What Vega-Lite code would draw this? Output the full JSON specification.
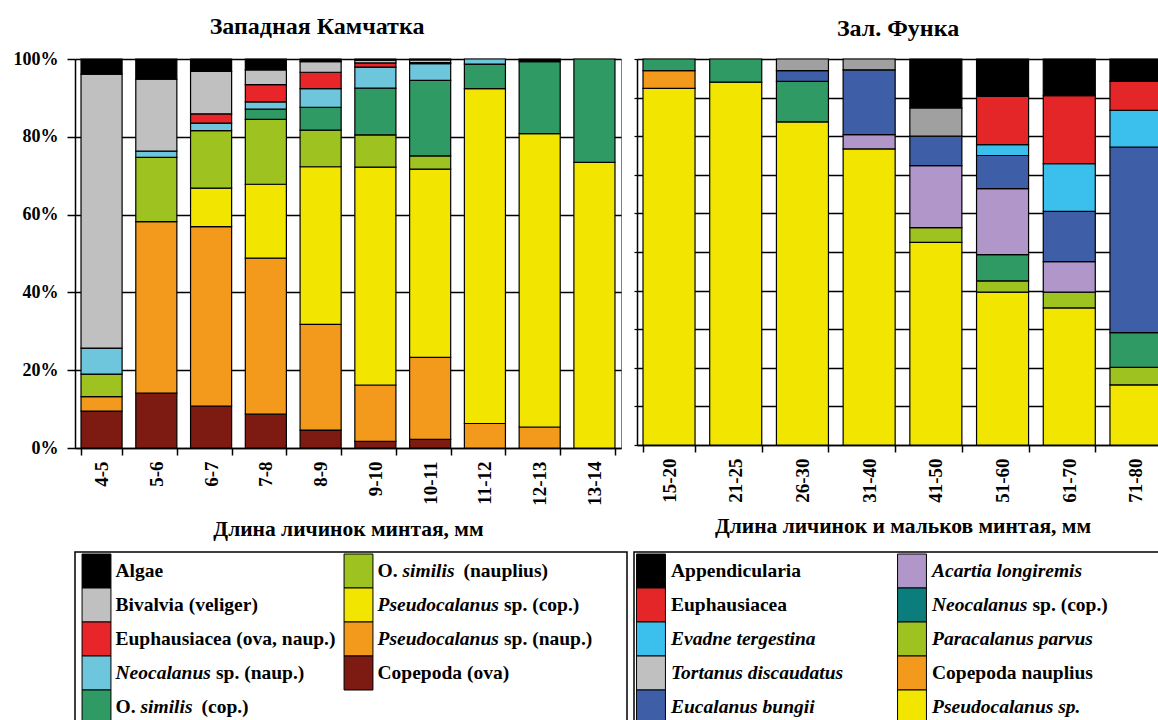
{
  "$schema": "https://vega.github.io/schema/vega-lite/v6.json",
  "padding": {"left": 12, "top": 14, "right": 0, "bottom": 0},
  "background": "white",
  "config": {
    "font": "Liberation Serif",
    "view": {"stroke": null},
    "axis": {"labelColor": "black", "titleColor": "black", "domainColor": "black", "tickColor": "black", "labelFont": "Liberation Serif", "titleFont": "Liberation Serif", "labelFontWeight": "bold", "titleFontWeight": "bold"},
    "title": {"font": "Liberation Serif", "fontWeight": "bold", "color": "black", "fontSize": 24, "anchor": "middle", "frame": "bounds"},
    "text": {"font": "Liberation Serif", "fontWeight": "bold", "fontSize": 19.5, "color": "black", "align": "left", "baseline": "middle"}
  },
  "datasets": {
    "west": [
      {"g": "4-5", "t": "Copepoda (ova)", "v": 9.5},
      {"g": "4-5", "t": "Pseudocalanus sp. (naup.)", "v": 3.7},
      {"g": "4-5", "t": "O. similis (nauplius)", "v": 5.8},
      {"g": "4-5", "t": "Neocalanus sp. (naup.)", "v": 6.7},
      {"g": "4-5", "t": "Bivalvia (veliger)", "v": 70.4},
      {"g": "4-5", "t": "Algae", "v": 3.9},
      {"g": "5-6", "t": "Copepoda (ova)", "v": 14.1},
      {"g": "5-6", "t": "Pseudocalanus sp. (naup.)", "v": 44.1},
      {"g": "5-6", "t": "O. similis (nauplius)", "v": 16.5},
      {"g": "5-6", "t": "Neocalanus sp. (naup.)", "v": 1.6},
      {"g": "5-6", "t": "Bivalvia (veliger)", "v": 18.5},
      {"g": "5-6", "t": "Algae", "v": 5.2},
      {"g": "6-7", "t": "Copepoda (ova)", "v": 10.8},
      {"g": "6-7", "t": "Pseudocalanus sp. (naup.)", "v": 46.1},
      {"g": "6-7", "t": "Pseudocalanus sp. (cop.)", "v": 9.9},
      {"g": "6-7", "t": "O. similis (nauplius)", "v": 14.8},
      {"g": "6-7", "t": "Neocalanus sp. (naup.)", "v": 1.9},
      {"g": "6-7", "t": "Euphausiacea (ova, naup.)", "v": 2.4},
      {"g": "6-7", "t": "Bivalvia (veliger)", "v": 10.9},
      {"g": "6-7", "t": "Algae", "v": 3.2},
      {"g": "7-8", "t": "Copepoda (ova)", "v": 8.7},
      {"g": "7-8", "t": "Pseudocalanus sp. (naup.)", "v": 40.1},
      {"g": "7-8", "t": "Pseudocalanus sp. (cop.)", "v": 19.0},
      {"g": "7-8", "t": "O. similis (nauplius)", "v": 16.7},
      {"g": "7-8", "t": "O. similis (cop.)", "v": 2.6},
      {"g": "7-8", "t": "Neocalanus sp. (naup.)", "v": 1.9},
      {"g": "7-8", "t": "Euphausiacea (ova, naup.)", "v": 4.4},
      {"g": "7-8", "t": "Bivalvia (veliger)", "v": 3.8},
      {"g": "7-8", "t": "Algae", "v": 2.8},
      {"g": "8-9", "t": "Copepoda (ova)", "v": 4.6},
      {"g": "8-9", "t": "Pseudocalanus sp. (naup.)", "v": 27.2},
      {"g": "8-9", "t": "Pseudocalanus sp. (cop.)", "v": 40.5},
      {"g": "8-9", "t": "O. similis (nauplius)", "v": 9.4},
      {"g": "8-9", "t": "O. similis (cop.)", "v": 5.9},
      {"g": "8-9", "t": "Neocalanus sp. (naup.)", "v": 4.8},
      {"g": "8-9", "t": "Euphausiacea (ova, naup.)", "v": 4.2},
      {"g": "8-9", "t": "Bivalvia (veliger)", "v": 2.7},
      {"g": "8-9", "t": "Algae", "v": 0.7},
      {"g": "9-10", "t": "Copepoda (ova)", "v": 1.7},
      {"g": "9-10", "t": "Pseudocalanus sp. (naup.)", "v": 14.5},
      {"g": "9-10", "t": "Pseudocalanus sp. (cop.)", "v": 56.0},
      {"g": "9-10", "t": "O. similis (nauplius)", "v": 8.3},
      {"g": "9-10", "t": "O. similis (cop.)", "v": 12.0},
      {"g": "9-10", "t": "Neocalanus sp. (naup.)", "v": 5.4},
      {"g": "9-10", "t": "Euphausiacea (ova, naup.)", "v": 1.1},
      {"g": "9-10", "t": "Bivalvia (veliger)", "v": 0.7},
      {"g": "9-10", "t": "Algae", "v": 0.3},
      {"g": "10-11", "t": "Copepoda (ova)", "v": 2.2},
      {"g": "10-11", "t": "Pseudocalanus sp. (naup.)", "v": 21.1},
      {"g": "10-11", "t": "Pseudocalanus sp. (cop.)", "v": 48.4},
      {"g": "10-11", "t": "O. similis (nauplius)", "v": 3.4},
      {"g": "10-11", "t": "O. similis (cop.)", "v": 19.4},
      {"g": "10-11", "t": "Neocalanus sp. (naup.)", "v": 4.3},
      {"g": "10-11", "t": "Euphausiacea (ova, naup.)", "v": 0.3},
      {"g": "10-11", "t": "Bivalvia (veliger)", "v": 0.7},
      {"g": "10-11", "t": "Algae", "v": 0.2},
      {"g": "11-12", "t": "Pseudocalanus sp. (naup.)", "v": 6.3},
      {"g": "11-12", "t": "Pseudocalanus sp. (cop.)", "v": 86.1},
      {"g": "11-12", "t": "O. similis (cop.)", "v": 6.3},
      {"g": "11-12", "t": "Neocalanus sp. (naup.)", "v": 1.3},
      {"g": "12-13", "t": "Pseudocalanus sp. (naup.)", "v": 5.4},
      {"g": "12-13", "t": "Pseudocalanus sp. (cop.)", "v": 75.4},
      {"g": "12-13", "t": "O. similis (cop.)", "v": 18.5},
      {"g": "12-13", "t": "Algae", "v": 0.7},
      {"g": "13-14", "t": "Pseudocalanus sp. (cop.)", "v": 73.4},
      {"g": "13-14", "t": "O. similis (cop.)", "v": 26.6}
    ],
    "east": [
      {"g": "15-20", "t": "Pseudocalanus sp.", "v": 92.4},
      {"g": "15-20", "t": "Copepoda nauplius", "v": 4.6},
      {"g": "15-20", "t": "Neocalanus sp. (cop.)", "v": 3.0},
      {"g": "21-25", "t": "Pseudocalanus sp.", "v": 94.0},
      {"g": "21-25", "t": "Neocalanus sp. (cop.)", "v": 6.0},
      {"g": "26-30", "t": "Pseudocalanus sp.", "v": 83.7},
      {"g": "26-30", "t": "Neocalanus sp. (cop.)", "v": 10.5},
      {"g": "26-30", "t": "Eucalanus bungii", "v": 2.8},
      {"g": "26-30", "t": "Tortanus discaudatus", "v": 3.0},
      {"g": "31-40", "t": "Pseudocalanus sp.", "v": 76.7},
      {"g": "31-40", "t": "Acartia longiremis", "v": 3.7},
      {"g": "31-40", "t": "Eucalanus bungii", "v": 16.8},
      {"g": "31-40", "t": "Tortanus discaudatus", "v": 2.8},
      {"g": "41-50", "t": "Pseudocalanus sp.", "v": 52.5},
      {"g": "41-50", "t": "Paracalanus parvus", "v": 3.8},
      {"g": "41-50", "t": "Acartia longiremis", "v": 16.1},
      {"g": "41-50", "t": "Eucalanus bungii", "v": 7.6},
      {"g": "41-50", "t": "Tortanus discaudatus", "v": 7.3},
      {"g": "41-50", "t": "Appendicularia", "v": 12.7},
      {"g": "51-60", "t": "Pseudocalanus sp.", "v": 39.6},
      {"g": "51-60", "t": "Paracalanus parvus", "v": 2.9},
      {"g": "51-60", "t": "Neocalanus sp. (cop.)", "v": 6.8},
      {"g": "51-60", "t": "Acartia longiremis", "v": 17.1},
      {"g": "51-60", "t": "Eucalanus bungii", "v": 8.6},
      {"g": "51-60", "t": "Evadne tergestina", "v": 2.8},
      {"g": "51-60", "t": "Euphausiacea", "v": 12.5},
      {"g": "51-60", "t": "Appendicularia", "v": 9.7},
      {"g": "61-70", "t": "Pseudocalanus sp.", "v": 35.5},
      {"g": "61-70", "t": "Paracalanus parvus", "v": 4.1},
      {"g": "61-70", "t": "Acartia longiremis", "v": 7.9},
      {"g": "61-70", "t": "Eucalanus bungii", "v": 13.0},
      {"g": "61-70", "t": "Evadne tergestina", "v": 12.4},
      {"g": "61-70", "t": "Euphausiacea", "v": 17.6},
      {"g": "61-70", "t": "Appendicularia", "v": 9.5},
      {"g": "71-80", "t": "Pseudocalanus sp.", "v": 15.6},
      {"g": "71-80", "t": "Paracalanus parvus", "v": 4.5},
      {"g": "71-80", "t": "Neocalanus sp. (cop.)", "v": 9.0},
      {"g": "71-80", "t": "Eucalanus bungii", "v": 48.1},
      {"g": "71-80", "t": "Evadne tergestina", "v": 9.5},
      {"g": "71-80", "t": "Euphausiacea", "v": 7.5},
      {"g": "71-80", "t": "Appendicularia", "v": 5.8}
    ],
    "westLegend": [
      {"t": "Algae"}, {"t": "Bivalvia (veliger)"}, {"t": "Euphausiacea (ova, naup.)"}, {"t": "Neocalanus sp. (naup.)"}, {"t": "O. similis (cop.)"},
      {"t": "O. similis (nauplius)"}, {"t": "Pseudocalanus sp. (cop.)"}, {"t": "Pseudocalanus sp. (naup.)"}, {"t": "Copepoda (ova)"}
    ],
    "eastLegend": [
      {"t": "Appendicularia"}, {"t": "Euphausiacea"}, {"t": "Evadne tergestina"}, {"t": "Tortanus discaudatus"}, {"t": "Eucalanus bungii"},
      {"t": "Acartia longiremis"}, {"t": "Neocalanus sp. (cop.)"}, {"t": "Paracalanus parvus"}, {"t": "Copepoda nauplius"}, {"t": "Pseudocalanus sp."}
    ]
  },
  "resolve": {"scale": {"color": "independent", "fill": "independent", "x": "independent", "y": "independent"}},
  "columns": 1,
  "align": "none",
  "spacing": 10,
  "concat": [
    {
      "resolve": {"scale": {"color": "independent", "fill": "independent", "x": "independent", "y": "independent"}},
      "spacing": 5,
      "hconcat": [
        {
          "width": 546,
          "height": 389,
          "view": {"stroke": "#808080", "strokeWidth": 1},
          "title": {"text": "Западная Камчатка", "offset": 11},
          "data": {"name": "west"},
          "transform": [
            {"calculate": "indexof(['Copepoda (ova)','Pseudocalanus sp. (naup.)','Pseudocalanus sp. (cop.)','O. similis (nauplius)','O. similis (cop.)','Neocalanus sp. (naup.)','Euphausiacea (ova, naup.)','Bivalvia (veliger)','Algae'], datum.t)", "as": "k"}
          ],
          "mark": {"type": "bar", "stroke": "black", "strokeWidth": 1.2},
          "encoding": {
            "x": {
              "field": "g", "type": "nominal",
              "sort": ["4-5", "5-6", "6-7", "7-8", "8-9", "9-10", "10-11", "11-12", "12-13", "13-14"],
              "scale": {"paddingInner": 0.25, "paddingOuter": 0.11},
              "axis": {
                "title": "Длина личинок минтая, мм", "titleFontSize": 21.5, "titlePadding": 13,
                "labelAngle": -90, "labelFontSize": 19, "labelPadding": 6,
                "tickBand": "extent", "tickSize": 7, "tickWidth": 1.5, "domainWidth": 1.5, "grid": false
              }
            },
            "y": {
              "field": "v", "type": "quantitative", "stack": "normalize",
              "scale": {"domain": [0, 1], "nice": false},
              "axis": {
                "title": null, "values": [0, 0.2, 0.4, 0.6, 0.8, 1], "format": ".0%",
                "grid": true, "gridColor": "black", "gridWidth": 1.3, "gridOpacity": 1,
                "tickSize": 8, "tickWidth": 1.5, "domainWidth": 1.5, "labelPadding": 9, "labelFontSize": 18
              }
            },
            "color": {
              "field": "t", "type": "nominal", "legend": null,
              "scale": {
                "domain": ["Copepoda (ova)", "Pseudocalanus sp. (naup.)", "Pseudocalanus sp. (cop.)", "O. similis (nauplius)", "O. similis (cop.)", "Neocalanus sp. (naup.)", "Euphausiacea (ova, naup.)", "Bivalvia (veliger)", "Algae"],
                "range": ["#7d1b12", "#f3991c", "#f2e600", "#9ec321", "#2f9a63", "#6dc6dc", "#e8262a", "#c0c0c0", "#000000"]
              }
            },
            "order": {"field": "k", "type": "quantitative"}
          }
        },
        {
          "width": 531,
          "height": 386,
          "view": {"stroke": "#808080", "strokeWidth": 1},
          "title": {"text": "Зал. Функа", "offset": 17.5},
          "data": {"name": "east"},
          "transform": [
            {"calculate": "indexof(['Pseudocalanus sp.','Copepoda nauplius','Paracalanus parvus','Neocalanus sp. (cop.)','Acartia longiremis','Eucalanus bungii','Tortanus discaudatus','Evadne tergestina','Euphausiacea','Appendicularia'], datum.t)", "as": "k"}
          ],
          "mark": {"type": "bar", "stroke": "black", "strokeWidth": 1.2},
          "encoding": {
            "x": {
              "field": "g", "type": "nominal",
              "sort": ["15-20", "21-25", "26-30", "31-40", "41-50", "51-60", "61-70", "71-80"],
              "scale": {"paddingInner": 0.22, "paddingOuter": 0.09},
              "axis": {
                "title": "Длина личинок и мальков минтая, мм", "titleFontSize": 21.5, "titlePadding": 13,
                "labelAngle": -90, "labelFontSize": 19, "labelPadding": 6,
                "tickBand": "extent", "tickSize": 7, "tickWidth": 1.5, "domainWidth": 1.5, "grid": false
              }
            },
            "y": {
              "field": "v", "type": "quantitative", "stack": "normalize",
              "scale": {"domain": [0, 1], "nice": false},
              "axis": {
                "title": null, "values": [0, 0.1, 0.2, 0.3, 0.4, 0.5, 0.6, 0.7, 0.8, 0.9, 1], "labels": false,
                "grid": true, "gridColor": "black", "gridWidth": 1.3, "gridOpacity": 1,
                "tickSize": 3, "tickWidth": 1.2, "domainWidth": 1.5
              }
            },
            "color": {
              "field": "t", "type": "nominal", "legend": null,
              "scale": {
                "domain": ["Pseudocalanus sp.", "Copepoda nauplius", "Paracalanus parvus", "Neocalanus sp. (cop.)", "Acartia longiremis", "Eucalanus bungii", "Tortanus discaudatus", "Evadne tergestina", "Euphausiacea", "Appendicularia"],
                "range": ["#f2e600", "#f3991c", "#9ec321", "#2f9a63", "#b096c9", "#3f5ea8", "#a0a0a0", "#3bc0ee", "#e52629", "#000000"]
              }
            },
            "order": {"field": "k", "type": "quantitative"}
          }
        }
      ]
    },
    {
      "resolve": {"scale": {"color": "independent", "fill": "independent", "x": "independent", "y": "independent"}},
      "spacing": 5,
      "hconcat": [
        {
          "width": 552,
          "height": 180,
          "view": {"stroke": "black", "strokeWidth": 1.5},
          "data": {"name": "westLegend"},
          "transform": [
            {"calculate": "indexof(['Algae','Bivalvia (veliger)','Euphausiacea (ova, naup.)','Neocalanus sp. (naup.)','O. similis (cop.)','O. similis (nauplius)','Pseudocalanus sp. (cop.)','Pseudocalanus sp. (naup.)','Copepoda (ova)'], datum.t)", "as": "i"},
            {"calculate": "floor(datum.i / 5)", "as": "c"},
            {"calculate": "datum.i % 5", "as": "r"},
            {"calculate": "split(datum.t, ' ')[0]", "as": "w1"},
            {"calculate": "split(datum.t, ' ')[1]", "as": "w2"},
            {"calculate": "slice(datum.t, indexof(datum.t, ' ') + 1)", "as": "rest1"},
            {"calculate": "slice(datum.t, indexof(datum.t, ' ', indexof(datum.t, ' ') + 1) + 1)", "as": "rest2"}
          ],
          "encoding": {
            "x": {"field": "c", "type": "ordinal", "scale": {"type": "point", "range": [21.5, 283.5], "padding": 0}, "axis": null},
            "y": {"field": "r", "type": "ordinal", "scale": {"type": "band", "range": [2, 172], "paddingInner": 0, "paddingOuter": 0}, "axis": null}
          },
          "layer": [
            {
              "mark": {"type": "point", "shape": "M-0.85,-1H0.85V1H-0.85Z", "size": 1156, "filled": true, "opacity": 1, "stroke": "black", "strokeWidth": 1},
              "encoding": {
                "fill": {
                  "field": "t", "type": "nominal", "legend": null,
                  "scale": {
                    "domain": ["Copepoda (ova)", "Pseudocalanus sp. (naup.)", "Pseudocalanus sp. (cop.)", "O. similis (nauplius)", "O. similis (cop.)", "Neocalanus sp. (naup.)", "Euphausiacea (ova, naup.)", "Bivalvia (veliger)", "Algae"],
                    "range": ["#7d1b12", "#f3991c", "#f2e600", "#9ec321", "#2f9a63", "#6dc6dc", "#e8262a", "#c0c0c0", "#000000"]
                  }
                }
              }
            },
            {
              "transform": [{"filter": "indexof(['Algae','Bivalvia (veliger)','Euphausiacea (ova, naup.)','Copepoda (ova)'], datum.t) >= 0"}],
              "mark": {"type": "text", "dx": 19},
              "encoding": {"text": {"field": "t"}}
            },
            {
              "transform": [{"filter": "indexof(['Neocalanus sp. (naup.)','Pseudocalanus sp. (cop.)','Pseudocalanus sp. (naup.)'], datum.t) >= 0"}],
              "mark": {"type": "text", "dx": 19, "fontStyle": "italic"},
              "encoding": {"text": {"field": "w1"}}
            },
            {
              "transform": [{"filter": "datum.w1 == 'Neocalanus'"}],
              "mark": {"type": "text", "dx": 119.5},
              "encoding": {"text": {"field": "rest1"}}
            },
            {
              "transform": [{"filter": "datum.w1 == 'Pseudocalanus'"}],
              "mark": {"type": "text", "dx": 145.5},
              "encoding": {"text": {"field": "rest1"}}
            },
            {
              "transform": [{"filter": "datum.w1 == 'O.'"}],
              "mark": {"type": "text", "dx": 19},
              "encoding": {"text": {"field": "w1"}}
            },
            {
              "transform": [{"filter": "datum.w1 == 'O.'"}],
              "mark": {"type": "text", "dx": 44, "fontStyle": "italic"},
              "encoding": {"text": {"field": "w2"}}
            },
            {
              "transform": [{"filter": "datum.w1 == 'O.'"}],
              "mark": {"type": "text", "dx": 105},
              "encoding": {"text": {"field": "rest2"}}
            }
          ]
        },
        {
          "width": 540,
          "height": 180,
          "view": {"stroke": "black", "strokeWidth": 1.5},
          "data": {"name": "eastLegend"},
          "transform": [
            {"calculate": "indexof(['Appendicularia','Euphausiacea','Evadne tergestina','Tortanus discaudatus','Eucalanus bungii','Acartia longiremis','Neocalanus sp. (cop.)','Paracalanus parvus','Copepoda nauplius','Pseudocalanus sp.'], datum.t)", "as": "i"},
            {"calculate": "floor(datum.i / 5)", "as": "c"},
            {"calculate": "datum.i % 5", "as": "r"},
            {"calculate": "split(datum.t, ' ')[0]", "as": "w1"},
            {"calculate": "slice(datum.t, indexof(datum.t, ' ') + 1)", "as": "rest1"}
          ],
          "encoding": {
            "x": {"field": "c", "type": "ordinal", "scale": {"type": "point", "range": [17, 278], "padding": 0}, "axis": null},
            "y": {"field": "r", "type": "ordinal", "scale": {"type": "band", "range": [2, 172], "paddingInner": 0, "paddingOuter": 0}, "axis": null}
          },
          "layer": [
            {
              "mark": {"type": "point", "shape": "M-0.85,-1H0.85V1H-0.85Z", "size": 1156, "filled": true, "opacity": 1, "stroke": "black", "strokeWidth": 1},
              "encoding": {
                "fill": {
                  "field": "t", "type": "nominal", "legend": null,
                  "scale": {
                    "domain": ["Pseudocalanus sp.", "Copepoda nauplius", "Paracalanus parvus", "Neocalanus sp. (cop.)", "Acartia longiremis", "Eucalanus bungii", "Tortanus discaudatus", "Evadne tergestina", "Euphausiacea", "Appendicularia"],
                    "range": ["#f2e600", "#f3991c", "#9ec321", "#0b7d7d", "#b096c9", "#3f5ea8", "#c0c0c0", "#3bc0ee", "#e52629", "#000000"]
                  }
                }
              }
            },
            {
              "transform": [{"filter": "indexof(['Appendicularia','Euphausiacea','Copepoda nauplius'], datum.t) >= 0"}],
              "mark": {"type": "text", "dx": 20},
              "encoding": {"text": {"field": "t"}}
            },
            {
              "transform": [{"filter": "indexof(['Evadne tergestina','Tortanus discaudatus','Eucalanus bungii','Acartia longiremis','Paracalanus parvus','Pseudocalanus sp.'], datum.t) >= 0"}],
              "mark": {"type": "text", "dx": 20, "fontStyle": "italic"},
              "encoding": {"text": {"field": "t"}}
            },
            {
              "transform": [{"filter": "datum.w1 == 'Neocalanus'"}],
              "mark": {"type": "text", "dx": 20, "fontStyle": "italic"},
              "encoding": {"text": {"field": "w1"}}
            },
            {
              "transform": [{"filter": "datum.w1 == 'Neocalanus'"}],
              "mark": {"type": "text", "dx": 120.5},
              "encoding": {"text": {"field": "rest1"}}
            }
          ]
        }
      ]
    }
  ]
}
